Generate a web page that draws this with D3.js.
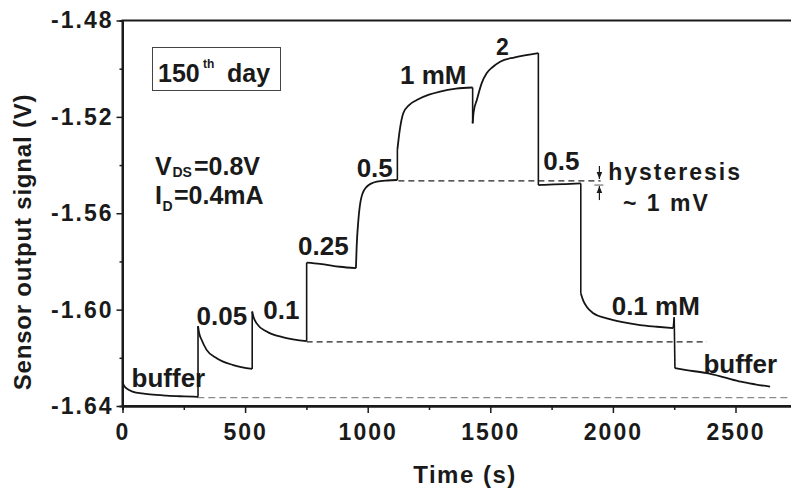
<!DOCTYPE html>
<html>
<head>
<meta charset="utf-8">
<script src="https://cdn.jsdelivr.net/npm/d3@7"></script>
<style>
  body { margin: 0; background: #fff; }
  text { font-family: "Liberation Sans", Arial, sans-serif; font-weight: bold; fill: #1a1a1a; }
</style>
</head>
<body>
<div id="chart"></div>
<script>
// sensor trace, one array per concentration step: [time (s), signal (V)]
const bufferStart = [[0, -1.6300], [5, -1.6313], [15, -1.6326], [44, -1.6341], [80, -1.6348], [112, -1.6352], [180, -1.6357], [250, -1.6360], [308, -1.6362]]
const conc005 = [[308, -1.6068], [312, -1.6095], [323, -1.6126], [343, -1.6167], [384, -1.6202], [452, -1.6230], [529, -1.6246]]
const conc01 = [[529, -1.6008], [534, -1.6030], [547, -1.6057], [588, -1.6091], [656, -1.6115], [751, -1.6131]]
const conc025 = [[751, -1.5805], [805, -1.5810], [887, -1.5822], [952, -1.5828]]
const conc05 = [[952, -1.5828], [955, -1.5739], [962, -1.5628], [975, -1.5531], [996, -1.5490], [1037, -1.5469], [1080, -1.5464], [1121, -1.5462]]
const conc1 = [[1121, -1.5337], [1130, -1.5260], [1145, -1.5185], [1170, -1.5150], [1200, -1.5130], [1250, -1.5108], [1295, -1.5095], [1360, -1.5083], [1428, -1.5078]]
const conc2 = [[1428, -1.5227], [1432, -1.5180], [1445, -1.5130], [1465, -1.5060], [1485, -1.5019], [1510, -1.4993], [1540, -1.4971], [1600, -1.4953], [1696, -1.4935]]
const back05 = [[1696, -1.5483], [1720, -1.5482], [1800, -1.5479], [1869, -1.5476]]
const back01 = [[1869, -1.5932], [1880, -1.5965], [1893, -1.5988], [1920, -1.6015], [1975, -1.6036], [2040, -1.6052], [2111, -1.6064], [2180, -1.6071], [2246, -1.6077]]
const spike = [[2250, -1.6032]]
const bufferEnd = [[2253, -1.6243], [2300, -1.6251], [2383, -1.6264], [2450, -1.6280], [2522, -1.6299], [2580, -1.6310], [2641, -1.6320]]
const segments = [bufferStart, conc005, conc01, conc025, conc05, conc1, conc2, back05, back01, spike, bufferEnd]

// dashed reference levels: [signal, from time, to time]
const baseLevel = [-1.6365, 305, 2750]
const level01 = [-1.6134, 751, 2383]
const level05 = [-1.5466, 1125, 1950]

// hysteresis arrows: time, upper tip, lower tip
const hysteresisTime = 1945
const hysteresisTips = [-1.5462, -1.5483]

// text labels anchored in data units: [text, time, signal]
const stepLabels = [["buffer", 37, -1.6320], ["0.05", 302, -1.6064], ["0.1", 574, -1.6039], ["0.25", 716, -1.5773],
  ["0.5", 955, -1.5448], ["1 mM", 1132, -1.5064], ["0.5", 1716, -1.5420], ["0.1 mM", 1995, -1.6022], ["buffer", 2369, -1.6265]]
const noteLabels = [["2", 1523, -1.4943], ["hysteresis", 1981, -1.5460], ["~ 1 mV", 2041, -1.5591]]

const xMajor = [0, 500, 1000, 1500, 2000, 2500]
const xMinor = [250, 750, 1250, 1750, 2250, 2750]
const yMajor = [-1.64, -1.60, -1.56, -1.52, -1.48]
const yMinor = [-1.62, -1.58, -1.54, -1.50]

const svg = d3.select("#chart")
  .append("svg")
  .attr("width", 791)
  .attr("height", 494)

const x = d3.scaleLinear().domain([0, 2750]).range([122.5, 796.8])
const y = d3.scaleLinear().domain([-1.64, -1.48]).range([406, 20.5])

// frame
svg.append("rect")
  .attr("x", x(0)).attr("y", y(-1.48))
  .attr("width", x(2750) - x(0)).attr("height", y(-1.64) - y(-1.48))
  .attr("fill", "none").attr("stroke", "#1a1a1a").attr("stroke-width", 2)

// dashed levels
const dashed = [[baseLevel, "#8a8a8a", "7,4"], [level01, "#222", "6,4"], [level05, "#222", "6,4"]]
dashed.forEach(([lv, col, dash]) => {
  svg.append("line")
    .attr("x1", x(lv[1])).attr("x2", x(lv[2]))
    .attr("y1", y(lv[0])).attr("y2", y(lv[0]))
    .attr("stroke", col).attr("stroke-width", 1.3).attr("stroke-dasharray", dash)
})

// trace
const smooth = d3.line().x(d => x(d[0])).y(d => y(d[1])).curve(d3.curveMonotoneX)
const straight = d3.line().x(d => x(d[0])).y(d => y(d[1]))
segments.forEach((seg, i) => {
  if (seg.length > 1) {
    svg.append("path").attr("d", smooth(seg))
      .attr("fill", "none").attr("stroke", "#151515").attr("stroke-width", 1.8)
  }
  if (i < segments.length - 1) {
    svg.append("path").attr("d", straight([seg[seg.length - 1], segments[i + 1][0]]))
      .attr("fill", "none").attr("stroke", "#151515").attr("stroke-width", 1.6)
  }
})

// hysteresis arrows
svg.append("defs").append("marker")
  .attr("id", "tip").attr("viewBox", "0 0 10 10").attr("refX", 10).attr("refY", 5)
  .attr("markerWidth", 6).attr("markerHeight", 6).attr("orient", "auto-start-reverse")
  .append("path").attr("d", "M0,1 L10,5 L0,9 z").attr("fill", "#1a1a1a")
const hx = x(hysteresisTime)
svg.append("line").attr("x1", hx).attr("x2", hx)
  .attr("y1", y(hysteresisTips[0]) - 14).attr("y2", y(hysteresisTips[0]) - 1)
  .attr("stroke", "#1a1a1a").attr("stroke-width", 1.2).attr("marker-end", "url(#tip)")
svg.append("line").attr("x1", hx).attr("x2", hx)
  .attr("y1", y(hysteresisTips[1]) + 15).attr("y2", y(hysteresisTips[1]) + 1)
  .attr("stroke", "#1a1a1a").attr("stroke-width", 1.2).attr("marker-end", "url(#tip)")
svg.append("line").attr("x1", hx - 5).attr("x2", hx + 4)
  .attr("y1", y(hysteresisTips[1])).attr("y2", y(hysteresisTips[1]))
  .attr("stroke", "#555").attr("stroke-width", 1)

// labels
svg.append("g").selectAll("text").data(stepLabels).join("text")
  .attr("x", d => x(d[1])).attr("y", d => y(d[2]))
  .attr("font-size", 26)
  .text(d => d[0])
svg.append("g").selectAll("text").data(noteLabels).join("text")
  .attr("x", d => x(d[1])).attr("y", d => y(d[2]))
  .attr("font-size", 23).attr("letter-spacing", 2)
  .text(d => d[0])

// 150th day box
svg.append("rect").attr("x", 152.5).attr("y", 47.5).attr("width", 128).attr("height", 43)
  .attr("fill", "none").attr("stroke", "#444").attr("stroke-width", 1)
svg.append("text").attr("x", 158).attr("y", 81.5).attr("font-size", 25).text("150")
svg.append("text").attr("x", 203).attr("y", 68).attr("font-size", 12).text("th")
svg.append("text").attr("x", 227).attr("y", 81.5).attr("font-size", 25).text("day")

// operating point
svg.append("text").attr("x", 155).attr("y", 175).attr("font-size", 25).text("V")
svg.append("text").attr("x", 172.5).attr("y", 176.5).attr("font-size", 14).text("DS")
svg.append("text").attr("x", 194).attr("y", 175).attr("font-size", 25).text("=0.8V")
svg.append("text").attr("x", 155).attr("y", 203.5).attr("font-size", 25).text("I")
svg.append("text").attr("x", 162.5).attr("y", 211).attr("font-size", 14).text("D")
svg.append("text").attr("x", 174).attr("y", 203.5).attr("font-size", 25).text("=0.4mA")

// axes
const xAxis = svg.append("g").attr("transform", "translate(0," + y(-1.64) + ")")
  .call(d3.axisBottom(x).tickValues(xMajor).tickSize(7).tickSizeOuter(0).tickPadding(11).tickFormat(d3.format("d")))
xAxis.selectAll("text").attr("font-size", 23).attr("letter-spacing", 2).attr("fill", "#1a1a1a")
svg.append("g").attr("transform", "translate(0," + y(-1.64) + ")")
  .call(d3.axisBottom(x).tickValues(xMinor).tickSize(4).tickFormat(""))

const yAxis = svg.append("g").attr("transform", "translate(" + x(0) + ",0)")
  .call(d3.axisLeft(y).tickValues(yMajor).tickSize(6).tickSizeOuter(0).tickPadding(3).tickFormat(d => d.toFixed(2)))
yAxis.selectAll("text").attr("font-size", 23).attr("letter-spacing", 2).attr("fill", "#1a1a1a")
svg.append("g").attr("transform", "translate(" + x(0) + ",0)")
  .call(d3.axisLeft(y).tickValues(yMinor).tickSize(3).tickFormat(""))

svg.selectAll(".domain").attr("stroke", "#1a1a1a").attr("stroke-width", 2)
svg.selectAll(".tick line").attr("stroke", "#1a1a1a").attr("stroke-width", 1.5)
svg.selectAll(".tick text").style("font-family", "'Liberation Sans', Arial, sans-serif").style("font-weight", "bold")

// axis titles
svg.append("text").attr("x", 465).attr("y", 482.5).attr("text-anchor", "middle")
  .attr("font-size", 24).attr("letter-spacing", 1.5).text("Time (s)")
svg.append("text").attr("transform", "translate(31,242) rotate(-90)").attr("text-anchor", "middle")
  .attr("font-size", 24).attr("letter-spacing", 0.8).text("Sensor output signal (V)")
</script>
</body>
</html>
